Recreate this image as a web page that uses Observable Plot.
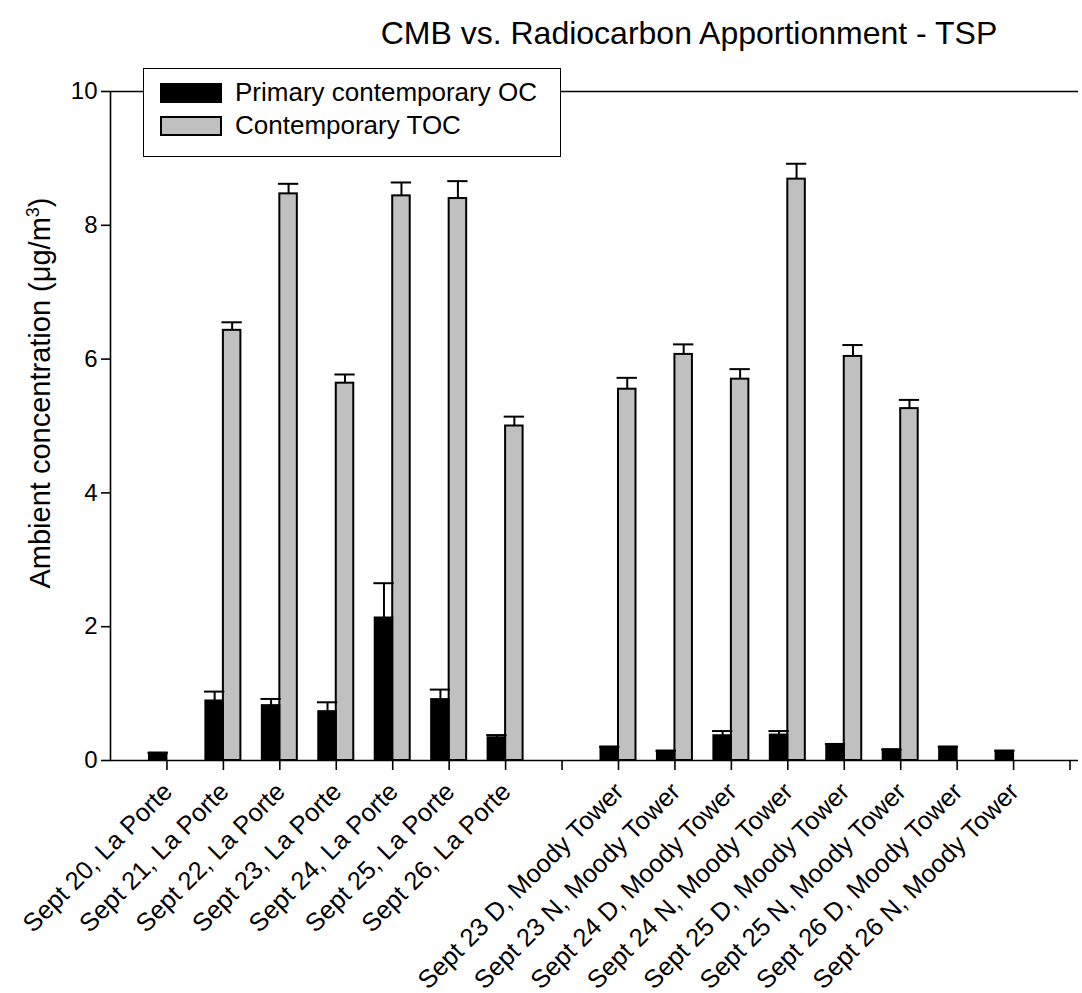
<!DOCTYPE html>
<html>
<head>
<meta charset="utf-8">
<script src="https://cdn.jsdelivr.net/npm/d3@7"></script>
<script src="https://cdn.jsdelivr.net/npm/@observablehq/plot@0.6"></script>
<style>
  html, body { margin: 0; padding: 0; background: #fff; }
  #wrap { position: relative; width: 1082px; height: 993px; font-family: "Liberation Sans", Arial, sans-serif; }
  #wrap svg { position: absolute; left: 0; top: 0; }
  #title { position: absolute; left: 0; width: 1378px; top: 15px; text-align: center; font-size: 32px; color: #000; white-space: nowrap; }
  #ylabel { position: absolute; left: 40px; top: 393px; transform: translate(-50%, -50%) rotate(-90deg); font-size: 29px; white-space: nowrap; }
  #ylabel sup { font-size: 18px; }
  #legend { position: absolute; left: 143px; top: 68px; width: 418px; height: 89px; border: 1.6px solid #000; background: #fff; box-sizing: border-box; }
  .lrow { position: absolute; left: 16px; display: flex; align-items: center; font-size: 26px; }
  .sw { width: 62px; height: 20px; border: 2px solid #000; box-sizing: border-box; margin-right: 13px; }
</style>
</head>
<body>
<div id="wrap">
  <div id="title">CMB vs. Radiocarbon Apportionment - TSP</div>
  <div id="ylabel">Ambient concentration (μg/m<sup>3</sup>)</div>
  <div id="legend"></div>
</div>
<script>
// Category labels (one per x slot; empty strings are gap slots)
const categories = [
  "Sept 20, La Porte", "Sept 21, La Porte", "Sept 22, La Porte", "Sept 23, La Porte",
  "Sept 24, La Porte", "Sept 25, La Porte", "Sept 26, La Porte", "",
  "Sept 23 D, Moody Tower", "Sept 23 N, Moody Tower", "Sept 24 D, Moody Tower",
  "Sept 24 N, Moody Tower", "Sept 25 D, Moody Tower", "Sept 25 N, Moody Tower",
  "Sept 26 D, Moody Tower", "Sept 26 N, Moody Tower", ""
];
// Series values (µg/m³) and upper error bars
const primaryOC    = [0.11, 0.89, 0.82, 0.73, 2.13, 0.91, 0.34, null, 0.20, 0.14, 0.37, 0.38, 0.24, 0.16, 0.20, 0.14, null];
const primaryOCErr = [0.005, 0.14, 0.10, 0.14, 0.52, 0.15, 0.04, null, 0.005, 0.005, 0.07, 0.06, 0.005, 0.005, 0.005, 0.005, null];
const contempTOC    = [null, 6.43, 8.47, 5.64, 8.44, 8.40, 5.00, null, 5.55, 6.07, 5.70, 8.69, 6.04, 5.26, null, null, null];
const contempTOCErr = [null, 0.12, 0.15, 0.13, 0.20, 0.26, 0.14, null, 0.17, 0.15, 0.15, 0.23, 0.17, 0.13, null, null, null];
const yTicks = [0, 2, 4, 6, 8, 10];
const seriesNames = ["Primary contemporary OC", "Contemporary TOC"];
const seriesColors = ["#000000", "#c0c0c0"];

const W = 0.31;   // bar width in slot units
const CAP = 0.18; // half width of the error cap

const slots = categories.map((c, i) => ({i, label: c}));
const black = primaryOC.map((v, i) => ({i, v, e: primaryOCErr[i]})).filter(d => d.v != null);
const gray = contempTOC.map((v, i) => ({i, v, e: contempTOCErr[i]})).filter(d => d.v != null);

const plot = Plot.plot({
  width: 1082,
  height: 993,
  marginLeft: 110,
  marginRight: 4,
  marginTop: 91,
  marginBottom: 233,
  style: {fontFamily: "'Liberation Sans', Arial, sans-serif", background: "transparent"},
  x: {type: "linear", domain: [-1, categories.length - 0.85], axis: null},
  y: {domain: [0, 10], axis: null},
  marks: [
    Plot.rectY(gray, {x1: d => d.i, x2: d => d.i + W, y1: 0, y2: "v", fill: seriesColors[1], stroke: "#000", strokeWidth: 2}),
    Plot.rectY(black, {x1: d => d.i - W, x2: d => d.i, y1: 0, y2: "v", fill: seriesColors[0], stroke: "#000", strokeWidth: 2}),
    Plot.ruleX(gray, {x: d => d.i + W / 2, y1: "v", y2: d => d.v + d.e, stroke: "#000", strokeWidth: 2}),
    Plot.ruleX(black, {x: d => d.i - W / 2, y1: "v", y2: d => d.v + d.e, stroke: "#000", strokeWidth: 2}),
    Plot.ruleY(gray, {y: d => d.v + d.e, x1: d => d.i + W / 2 - CAP, x2: d => d.i + W / 2 + CAP, stroke: "#000", strokeWidth: 2}),
    Plot.ruleY(black, {y: d => d.v + d.e, x1: d => d.i - W / 2 - CAP, x2: d => d.i - W / 2 + CAP, stroke: "#000", strokeWidth: 2}),
    Plot.ruleY([0, 10], {stroke: "#000", strokeWidth: 1.6}),
    Plot.ruleX([-1], {stroke: "#000", strokeWidth: 1.6}),
    Plot.axisY(yTicks, {tickSize: 9, tickPadding: 4, fontSize: 24, tickFormat: d => d, label: null, stroke: "#000", strokeWidth: 1.6, color: "#000"}),
    Plot.axisX(slots.map(d => d.i), {tickSize: 10, tickFormat: () => "", label: null, stroke: "#000", strokeWidth: 1.6}),
    Plot.text(slots.filter(d => d.label), {x: "i", y: 0, text: "label", rotate: -45, textAnchor: "end", lineAnchor: "middle", dx: 1, dy: 27, fontSize: 25.5, fill: "#000"})
  ]
});
document.getElementById("wrap").prepend(plot);

const lg = document.getElementById("legend");
seriesNames.forEach((name, k) => {
  const row = document.createElement("div");
  row.className = "lrow";
  row.style.top = (k === 0 ? 8 : 41) + "px";
  const sw = document.createElement("div");
  sw.className = "sw";
  sw.style.background = seriesColors[k];
  const tx = document.createElement("span");
  tx.textContent = name;
  row.append(sw, tx);
  lg.append(row);
});
</script>
</body>
</html>
